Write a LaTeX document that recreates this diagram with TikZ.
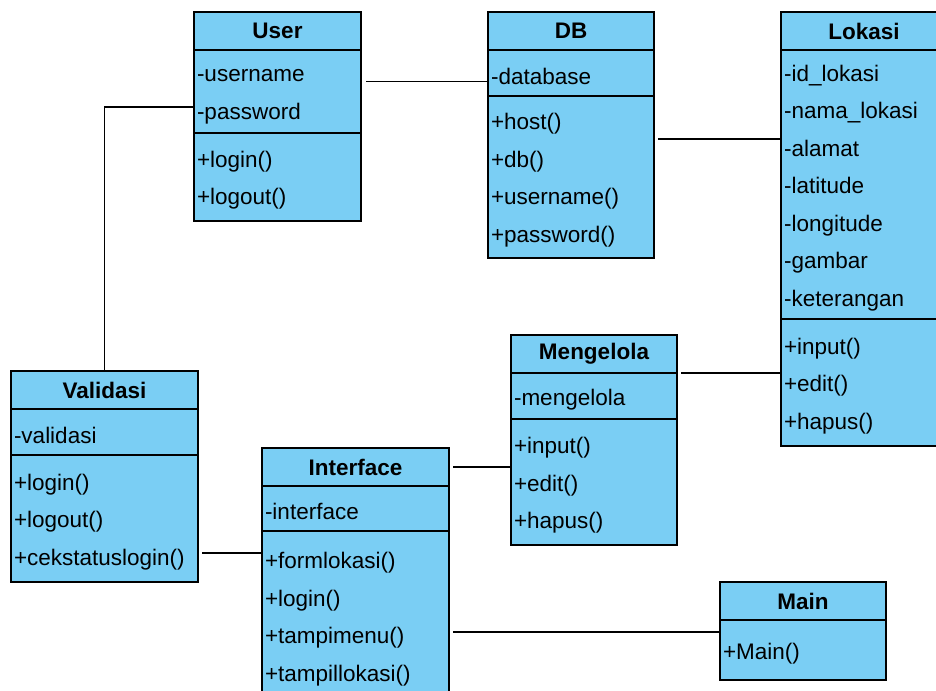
\documentclass[tikz,border=0pt]{standalone}
\usepackage{fontspec}
\setmainfont{Liberation Sans}
\usepackage{tikz}
\usetikzlibrary{positioning}
\definecolor{umlblue}{RGB}{122,206,244}
\newcommand\umlfont{\fontsize{22.5}{37.5}\selectfont}

\begin{document}
\begin{tikzpicture}[x=1pt, y=-1pt, node distance=0pt,
		umlbox/.style={draw, rectangle, fill=umlblue, line width=1.3pt, outer sep=0pt,
				inner xsep=3pt, inner ysep=0pt, text width=#1},
		umlhead/.style={umlbox=#1, anchor=north west, align=center,
				font=\umlfont\bfseries, minimum height=38pt},
		umlpart/.style={umlbox=#1, align=left, font=\umlfont,
				execute at begin node={\leavevmode\rule{0pt}{23pt}}},
		conn/.style={draw, line width=1.3pt}]
		\useasboundingbox[fill=white] (0,0) rectangle (936,690);
		\clip (0,0) rectangle (936,690);

		% Classes
		\node (user) [umlhead=161pt] at (194,12) {User};
		\node (userattr) [umlpart=161pt, below=of user, minimum height=83pt] {-username\\-password};
		\node (userops) [umlpart=161pt, below=of userattr, minimum height=88pt] {+login()\\+logout()};

		\node (db) [umlhead=160pt] at (488,12) {DB};
		\node (dbattr) [umlpart=160pt, below=of db, minimum height=46pt] {-database};
		\node (dbops) [umlpart=160pt, below=of dbattr, minimum height=162pt]
			{+host()\\+db()\\+username()\\+password()};

		\node (lokasi) [umlhead=160pt] at (781,12) {Lokasi};
		\node (lokasiattr) [umlpart=160pt, below=of lokasi, minimum height=269pt]
			{-id\_lokasi\\-nama\_lokasi\\-alamat\\-latitude\\-longitude\\-gambar\\-keterangan};
		\node (lokasiops) [umlpart=160pt, below=of lokasiattr, minimum height=127pt]
			{+input()\\+edit()\\+hapus()};

		\node (validasi) [umlhead=181pt] at (11,371) {Validasi};
		\node (validasiattr) [umlpart=181pt, below=of validasi, minimum height=46pt] {-validasi};
		\node (validasiops) [umlpart=181pt, below=of validasiattr, minimum height=127pt]
			{+login()\\+logout()\\+cekstatuslogin()};

		\node (interface) [umlhead=181pt] at (262,448) {Interface};
		\node (interfaceattr) [umlpart=181pt, below=of interface, minimum height=45pt] {-interface};
		\node (interfaceops) [umlpart=181pt, below=of interfaceattr, minimum height=170pt]
			{+formlokasi()\\+login()\\+tampimenu()\\+tampillokasi()};

		\node (mengelola) [umlhead=160pt] at (511,335) {Mengelola};
		\node (mengelolaattr) [umlpart=160pt, below=of mengelola, minimum height=46pt] {-mengelola};
		\node (mengelolaops) [umlpart=160pt, below=of mengelolaattr, minimum height=126pt]
			{+input()\\+edit()\\+hapus()};

		\node (main) [umlhead=160pt] at (720,582) {Main};
		\node (mainops) [umlpart=160pt, below=of main, minimum height=60pt] {+Main()};

		% Associations
		\draw[conn] ([xshift=5pt,yshift=10pt]userattr.east) -- ([yshift=10pt]userattr.east -| db.west);
		\draw[conn] ([xshift=4pt,yshift=38pt]dbops.east) -- ([yshift=38pt]dbops.east -| lokasi.west);
		\draw[conn] ([yshift=-15.5pt]userattr.west) -| (validasi.north);
		\draw[conn] ([xshift=4pt]mengelola.south east) -- (mengelola.south east -| lokasi.west);
		\draw[conn] ([xshift=4pt]interface.east) -- (interface.east -| mengelola.west);
		\draw[conn] ([xshift=4pt,yshift=-34.5pt]validasiops.east) -- ([yshift=-34.5pt]validasiops.east -| interface.west);
		\draw[conn] ([xshift=4pt,yshift=18pt]mainops.west -| interfaceops.east) -- ([yshift=18pt]mainops.west);
	\end{tikzpicture}
\end{document}
